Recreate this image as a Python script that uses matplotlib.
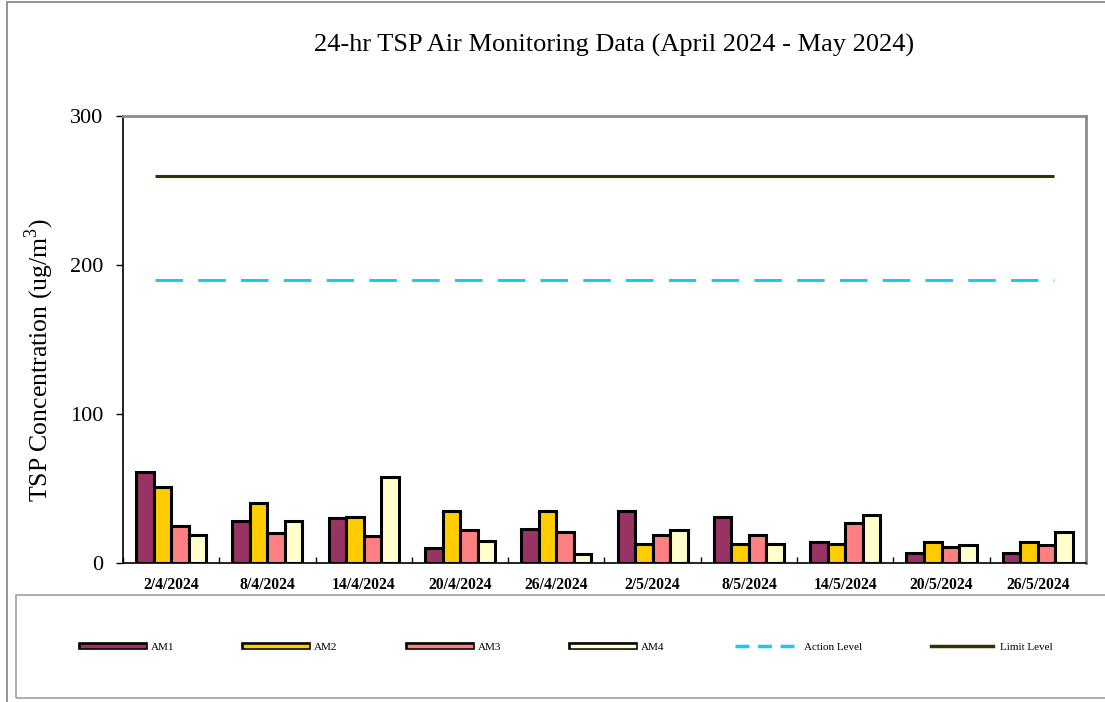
import numpy as np
import matplotlib.pyplot as plt
from matplotlib.lines import Line2D
from matplotlib.patches import Rectangle
import matplotlib.patheffects as pe

plt.rcParams['font.family'] = ['Liberation Serif', 'DejaVu Serif']
plt.rcParams['mathtext.fontset'] = 'custom'
plt.rcParams['mathtext.rm'] = 'Liberation Serif'

dates = ['2/4/2024', '8/4/2024', '14/4/2024', '20/4/2024', '26/4/2024',
         '2/5/2024', '8/5/2024', '14/5/2024', '20/5/2024', '26/5/2024']
am1 = [61, 28, 30, 10, 23, 35, 31, 14, 7, 7]
am2 = [51, 40, 31, 35, 35, 13, 13, 13, 14, 14]
am3 = [25, 20, 18, 22, 21, 19, 19, 27, 11, 12]
am4 = [19, 28, 58, 15, 6, 22, 13, 32, 12, 21]
action_level = 190
limit_level = 260

series = [('AM1', am1, '#993366'), ('AM2', am2, '#FFCC00'),
          ('AM3', am3, '#FF8080'), ('AM4', am4, '#FFFFCC')]

fig = plt.figure(figsize=(11.05, 7.02), dpi=100)
ax = fig.add_axes([0.1113, 0.198, 0.8715, 0.6368])

x = np.arange(len(dates))
w = 0.182
for i, (name, vals, col) in enumerate(series):
    ax.bar(x + (i - 1.5) * w, vals, width=w, color=col, edgecolor='black',
           linewidth=2.2, zorder=3)

ax.hlines(limit_level, x[0] - 0.17, x[-1] + 0.17, color='#333300', lw=2.2, zorder=2)
ax.hlines(action_level, x[0] - 0.17, x[-1] + 0.17, color='#1EC8F5', lw=2.2,
          linestyles=(0, (9, 5)), zorder=2)

ax.set_xlim(-0.5, len(dates) - 0.5)
ax.set_ylim(0, 300)
ax.set_yticks([0, 100, 200, 300])
ax.tick_params(axis='y', labelsize=16, length=5, direction='out', width=1, pad=9)
ax.set_xticks(x)
ax.set_xticklabels(dates, fontsize=11.3, fontweight='bold')
ax.tick_params(axis='x', length=0, pad=10)
ax.set_xticks(np.arange(len(dates) + 1) - 0.5, minor=True)
ax.tick_params(axis='x', which='minor', length=4, direction='in', width=1)

for s in ['left', 'bottom']:
    ax.spines[s].set_color('black')
    ax.spines[s].set_linewidth(1.2)
for s in ['top', 'right']:
    ax.spines[s].set_color('#8c8c8c')
    ax.spines[s].set_linewidth(2)

ax.set_ylabel('TSP Concentration (ug/m$^3$)', fontsize=18.5)
ax.yaxis.set_label_coords(-0.070, 0.455)
fig.text(0.556, 0.935, '24-hr TSP Air Monitoring Data (April 2024 - May 2024)',
         ha='center', va='center', fontsize=19)

# outer border and legend box
fig.patches.append(Rectangle((7 / 1105, -0.05), 1.2, 1.05 - 2 / 702, transform=fig.transFigure,
                             fill=False, edgecolor='#808080', lw=1.2))
fig.patches.append(Rectangle((16 / 1105, 4 / 702), 1.2, (107 - 4) / 702, transform=fig.transFigure,
                             fill=False, edgecolor='#a0a0a0', lw=1.2))

handles = []
for name, vals, col in series:
    h = Line2D([], [], color=col, lw=2.5,
               path_effects=[pe.Stroke(linewidth=5.5, foreground='black'), pe.Normal()])
    handles.append((h, name))
handles.append((Line2D([], [], color='#1EC8F5', lw=2.5, linestyle=(0, (4, 2.5))), 'Action Level'))
handles.append((Line2D([], [], color='#333300', lw=2.5), 'Limit Level'))

starts = [82, 245, 409, 572, 735, 931]
for (h, name), xs in zip(handles, starts):
    fig.legend([h], [name], loc='center left', bbox_to_anchor=(xs / 1105, 1 - 647 / 702),
               frameon=False, fontsize=8, handlelength=5.6, handletextpad=0.6,
               borderpad=0, borderaxespad=0)

fig.savefig('out.png', dpi=100)
